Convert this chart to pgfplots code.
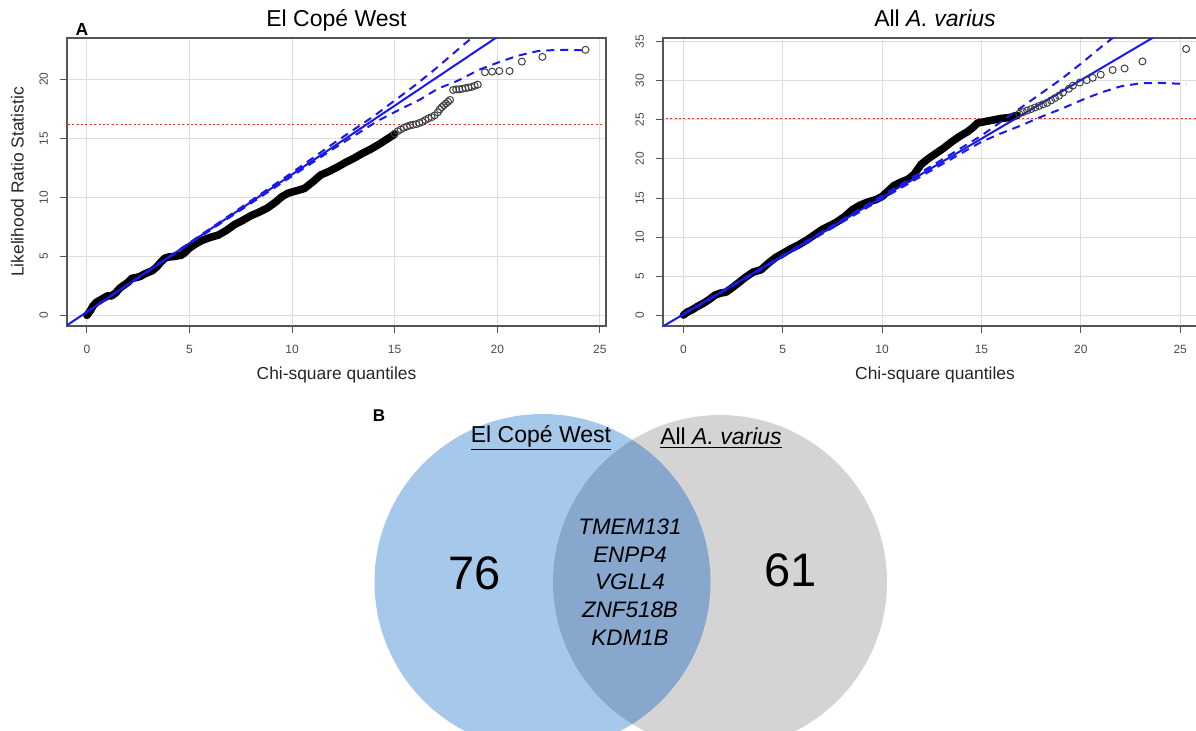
\documentclass[border=0pt]{standalone}
\usepackage{fontspec}
\setmainfont{Liberation Sans}
\usepackage{pgfplots}
\pgfplotsset{compat=1.18}
\definecolor{venblue}{RGB}{166,200,234}
\definecolor{vengray}{RGB}{212,212,212}
\definecolor{venmix}{RGB}{135,167,204}
\definecolor{gridc}{RGB}{222,222,222}
\definecolor{boxc}{RGB}{85,85,85}
\definecolor{tickc}{RGB}{75,75,75}
\definecolor{qqblue}{RGB}{25,25,235}
\pgfplotsset{
  qq/.style={
    scale only axis, height=144pt,
    axis line style={boxc, line width=0.6pt},
    tick align=outside, tick pos=left, major tick length=3.5pt,
    tick style={boxc, line width=0.5pt},
    grid=major, major grid style={gridc, line width=0.5pt},
    ticklabel style={font=\fontsize{6}{7}\selectfont, text=tickc},
    yticklabel style={rotate=90, anchor=south},
    xticklabel shift=2.5pt, yticklabel shift=2.5pt,
    /pgf/number format/assume math mode=true,
    xtick={0,5,...,25},
    title style={font=\fontsize{11.5}{13}\selectfont, at={(axis description cs:0.5,1)}, anchor=base},
    xlabel style={font=\fontsize{8.7}{10}\selectfont, text=black!85, at={(axis description cs:0.5,0)}, anchor=base, yshift=-26.5pt},
    ylabel style={font=\fontsize{8.7}{10}\selectfont, text=black!85, anchor=base},
  },
  env/.style={qqblue, line width=1pt, dash pattern=on 4pt off 3pt},
  band/.style={black, line width=3.8pt, line join=round, line cap=round},
  tail/.style={only marks, mark=o, mark size=1.75pt, black!75, mark options={line width=0.5pt}},
}
\begin{document}
\begin{tikzpicture}
\useasboundingbox (0,0) rectangle (598pt,365pt);
\clip (0,0) rectangle (598pt,365pt);

% ---------------- Venn diagram (B) ----------------
\begin{axis}[at={(0pt,0pt)}, anchor=south west, scale only axis,
  width=598pt, height=365pt, xmin=0, xmax=1196, ymin=0, ymax=730,
  hide axis, clip=false]
\fill[venblue] (axis cs:542.5,148) circle[radius=168];
\fill[vengray] (axis cs:720,148) circle[radius=167];
\begin{scope}
\clip (axis cs:542.5,148) circle[radius=168];
\fill[venmix] (axis cs:720,148) circle[radius=167];
\end{scope}
\node[font=\fontsize{11.5}{13}\selectfont] at (axis cs:541,292) {\underline{El Copé West}};
\node[font=\fontsize{11.5}{13}\selectfont] at (axis cs:721,292) {\underline{All \textit{A. varius}}};
\node[font=\fontsize{23.5}{26}\selectfont] at (axis cs:475,157) {76};
\node[font=\fontsize{23.5}{26}\selectfont] at (axis cs:791,160) {61};
\node[font=\fontsize{11.2}{13.8}\selectfont\itshape, align=center] at (axis cs:630,148)
  {TMEM131\\ENPP4\\VGLL4\\ZNF518B\\KDM1B};
\node[font=\fontsize{8.75}{10}\selectfont\bfseries] at (axis cs:82,701) {A};
\node[font=\fontsize{8.5}{10}\selectfont\bfseries] at (axis cs:379,314) {B};
\end{axis}

% ---------------- El Cope West QQ ----------------
\begin{axis}[qq, at={(33.5pt,202pt)}, anchor=south west, width=269.5pt,
  xmin=-0.97, xmax=25.3, ymin=-0.9, ymax=23.5,
  ytick={0,5,...,20},
  title={El Copé West}, xlabel={Chi-square quantiles},
  ylabel={Likelihood Ratio Statistic},
  ylabel style={at={(axis description cs:-0.0807,0.5)}}]
\addplot[red!85, line width=0.5pt, dash pattern=on 1pt off 1.2pt] coordinates {(-2,16.2) (30,16.2)};
\addplot[band] coordinates {
(0,0)(0.15,0.35)(0.3,0.8)(0.45,1.1)(0.6,1.25)(0.8,1.45)(1.0,1.65)(1.2,1.65)(1.4,1.9)(1.6,2.3)
(1.8,2.55)(2.0,2.8)(2.2,3.15)(2.4,3.2)(2.6,3.3)(2.8,3.5)(3.0,3.65)(3.2,3.8)(3.4,4.1)(3.6,4.5)
(3.8,4.85)(4.0,4.95)(4.3,5.0)(4.6,5.1)(4.8,5.35)(5.0,5.7)(5.3,6.05)(5.6,6.35)(6.0,6.6)(6.4,6.8)
(6.8,7.2)(7.2,7.7)(7.6,8.05)(8.0,8.45)(8.4,8.75)(8.8,9.1)(9.2,9.6)(9.5,10.05)(9.8,10.35)(10.1,10.5)
(10.6,10.75)(11.0,11.3)(11.4,11.9)(11.8,12.2)(12.2,12.55)(12.6,12.95)(13.0,13.3)(13.4,13.7)
(13.8,14.05)(14.2,14.45)(14.6,14.9)(15.0,15.35)};
\addplot[tail] coordinates {
(15.0,15.4)(15.15,15.6)(15.3,15.75)(15.45,15.9)(15.6,16.0)(15.75,16.1)(15.9,16.15)(16.05,16.2)
(16.2,16.3)(16.35,16.4)(16.5,16.55)(16.65,16.7)(16.8,16.8)(16.95,16.95)(17.1,17.2)(17.2,17.45)
(17.3,17.65)(17.4,17.8)(17.5,17.95)(17.6,18.1)(17.7,18.25)
(17.85,19.1)(18.0,19.15)(18.15,19.15)(18.3,19.2)(18.45,19.25)(18.6,19.3)(18.75,19.35)(18.9,19.45)(19.05,19.55)
(19.4,20.6)(19.75,20.65)(20.1,20.7)(20.6,20.7)(21.2,21.5)(22.2,21.9)(24.3,22.5)};
\addplot[qqblue, line width=1pt] coordinates {(-2,-2.04) (22,25.92)};
\addplot[env] coordinates {(0,0.3)(5,6.15)(10,12.1)(12,14.55)(14,16.9)(15,18.2)(16,19.5)(17,20.9)(18,22.4)(18.75,23.5)(19,23.9)};
\addplot[env] coordinates {(0,0.27)(5,6.05)(10,11.8)(12,14.1)(14.2,16.5)(15.2,17.4)(16.2,18.25)(17.1,19.2)(18.1,19.9)(19.1,20.8)(20,21.4)(21,22.0)(22,22.4)(23,22.5)(24.4,22.45)};
\end{axis}

% ---------------- All A. varius QQ ----------------
\begin{axis}[qq, at={(331.5pt,202pt)}, anchor=south west, width=272pt,
  xmin=-1.03, xmax=26.35, ymin=-1.4, ymax=35.5,
  ytick={0,5,...,35},
  title={All \textit{A. varius}}, xlabel={Chi-square quantiles}]
\addplot[red!85, line width=0.5pt, dash pattern=on 1pt off 1.2pt] coordinates {(-2,25.2) (30,25.2)};
\addplot[band] coordinates {
(0,0)(0.2,0.4)(0.42,0.65)(0.7,1.1)(1.0,1.5)(1.3,2.0)(1.58,2.55)(1.85,2.8)(2.15,2.95)(2.45,3.5)
(2.73,4.05)(3.1,4.8)(3.5,5.5)(3.9,5.8)(4.3,6.7)(4.65,7.4)(5.0,7.9)(5.4,8.5)(5.8,9.0)(6.2,9.6)
(6.6,10.3)(7.0,11.0)(7.4,11.5)(7.7,11.9)(8.1,12.6)(8.5,13.5)(8.9,14.1)(9.3,14.5)(9.7,14.8)(10.0,15.2)
(10.3,15.9)(10.6,16.6)(11.0,17.1)(11.3,17.4)(11.6,18.0)(11.96,19.3)(12.3,20.0)(12.7,20.7)(13.1,21.4)
(13.5,22.2)(13.9,22.9)(14.3,23.5)(14.6,24.1)(14.8,24.6)(15.2,24.8)(15.6,25.0)(16.0,25.2)(16.4,25.3)(16.8,25.6)};
\addplot[tail] coordinates {
(16.9,25.8)(17.1,26.0)(17.3,26.2)(17.5,26.4)(17.7,26.6)(17.9,26.8)(18.1,27.0)(18.3,27.2)(18.5,27.5)
(18.7,27.8)(18.9,28.1)(19.1,28.5)(19.4,29.0)(19.6,29.4)(19.95,29.8)(20.3,30.1)(20.6,30.4)(21.0,30.8)
(21.6,31.4)(22.2,31.6)(23.1,32.5)(25.3,34.1)};
\addplot[qqblue, line width=1pt] coordinates {(-2,-2.9) (25,37.6)};
\addplot[env] coordinates {(0,0.15)(5,7.65)(10,15.3)(13,19.9)(15,23.0)(16,24.8)(17,26.6)(18,28.4)(19,30.2)(20,32.2)(21,34.3)(21.6,35.5)(22,36.3)};
\addplot[env] coordinates {(0,0.05)(5,7.45)(10,14.9)(13,19.3)(15,22.2)(16,23.3)(17,24.3)(18,25.4)(19,26.4)(20,27.5)(21,28.5)(22,29.3)(23,29.7)(24,29.75)(25.3,29.6)};
\end{axis}
\end{tikzpicture}
\end{document}
